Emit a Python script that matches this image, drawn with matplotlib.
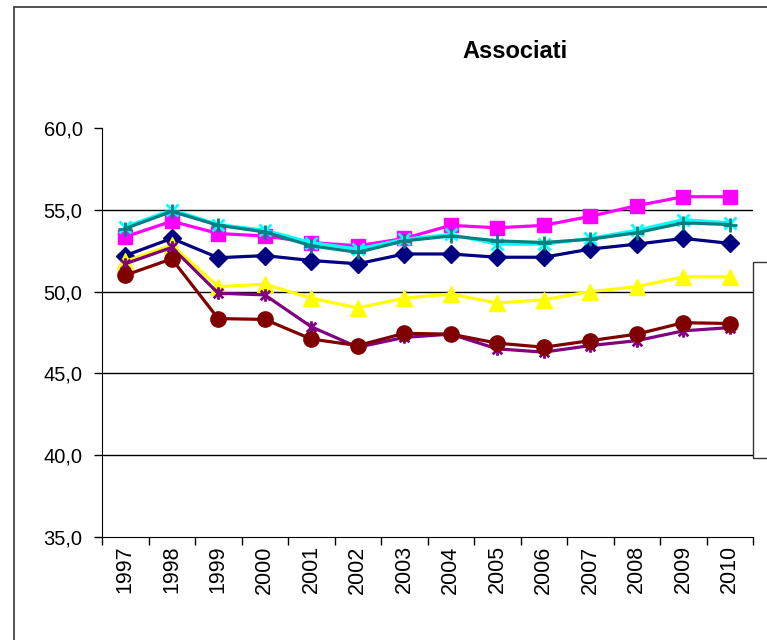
import numpy as np
import matplotlib
matplotlib.use('Agg')
import matplotlib.pyplot as plt
from matplotlib.path import Path
from matplotlib.patches import Rectangle

plt.rcParams['font.family'] = ['Liberation Sans', 'DejaVu Sans']

years = ['1997', '1998', '1999', '2000', '2001', '2002', '2003',
         '2004', '2005', '2006', '2007', '2008', '2009', '2010']

navy_vals = [52.2, 53.25, 52.07, 52.2, 51.9, 51.7, 52.3,
             52.3, 52.1, 52.1, 52.6, 52.9, 53.25, 52.95]
magenta_vals = [53.35, 54.3, 53.55, 53.4, 53.0, 52.8, 53.25,
                54.05, 53.9, 54.05, 54.6, 55.25, 55.8, 55.8]
yellow_vals = [51.85, 52.85, 50.3, 50.45, 49.6, 49.0, 49.6,
               49.85, 49.3, 49.5, 50.0, 50.3, 50.9, 50.9]
cyan_vals = [53.95, 55.0, 54.1, 53.75, 53.0, 52.6, 53.2,
             53.5, 52.9, 52.9, 53.25, 53.75, 54.4, 54.2]
purple_vals = [51.7, 52.7, 49.9, 49.8, 47.85, 46.6, 47.2,
               47.4, 46.5, 46.3, 46.7, 47.0, 47.6, 47.8]
darkred_vals = [51.0, 52.0, 48.35, 48.3, 47.1, 46.7, 47.45,
                47.4, 46.85, 46.6, 47.0, 47.4, 48.1, 48.05]
teal_vals = [53.85, 54.9, 54.05, 53.65, 52.8, 52.4, 53.1,
             53.4, 53.1, 53.0, 53.2, 53.6, 54.2, 54.1]

# excel-like asterisk: x plus vertical bar
star = Path([(-1, -1), (1, 1), (-1, 1), (1, -1), (0, -1.3), (0, 1.3)],
            [Path.MOVETO, Path.LINETO, Path.MOVETO, Path.LINETO, Path.MOVETO, Path.LINETO])

series = [
    (navy_vals, '#000080', 'D', 9),
    (magenta_vals, '#FF00FF', 's', 10.5),
    (yellow_vals, '#FFFF00', '^', 11),
    (cyan_vals, '#00FFFF', 'x', 9),
    (purple_vals, '#800080', star, 9),
    (darkred_vals, '#800000', 'o', 11),
    (teal_vals, '#008080', '+', 10),
]

fig = plt.figure(figsize=(7.67, 6.4), dpi=100)
ax = fig.add_axes([102 / 767, 1 - 537 / 640, 651 / 767, 409 / 640])

x = np.arange(len(years))
for vals, col, mk, ms in series:
    if mk in ('x', '+') or mk is star:
        ax.plot(x, vals, color=col, lw=2.3, marker=mk, ms=ms, mew=2,
                mec=col, mfc='none', clip_on=False)
    else:
        ax.plot(x, vals, color=col, lw=2.3, marker=mk, ms=ms, mec=col,
                mfc=col, clip_on=False)

ax.set_xlim(-0.5, 13.5)
ax.set_ylim(35, 60)
ax.set_yticks([35, 40, 45, 50, 55, 60])
ax.set_yticklabels(['35,0', '40,0', '45,0', '50,0', '55,0', '60,0'], fontsize=14.5)
for yv in [40, 45, 50, 55]:
    ax.axhline(yv, color='black', lw=1, zorder=0)

ax.set_xticks(np.arange(-0.5, 14, 1))
ax.set_xticklabels([])
ax.set_xticks(x, minor=True)
ax.set_xticklabels(years, minor=True, rotation=90, fontsize=15.5)
ax.tick_params(axis='x', which='minor', length=0, pad=6)
ax.tick_params(axis='x', which='major', length=6, width=1, direction='out')
ax.tick_params(axis='y', length=6, width=1, direction='out', pad=8)

ax.spines['top'].set_visible(False)
ax.spines['right'].set_visible(False)

fig.text(515 / 767, 1 - 52 / 640, 'Associati', ha='center', va='center',
         fontsize=17, fontweight='bold')

# outer chart frame and the clipped legend box
fig.patches.append(Rectangle((14 / 767, -0.1), 1.2, 1 - 7 / 640 + 0.1,
                             transform=fig.transFigure, fill=False,
                             ec='#333333', lw=1.2))
fig.patches.append(Rectangle((753 / 767, 1 - 458 / 640), 0.1, 196 / 640,
                             transform=fig.transFigure, fill=True, fc='white',
                             ec='#333333', lw=1, zorder=5))

fig.savefig('out.png', dpi=100)
